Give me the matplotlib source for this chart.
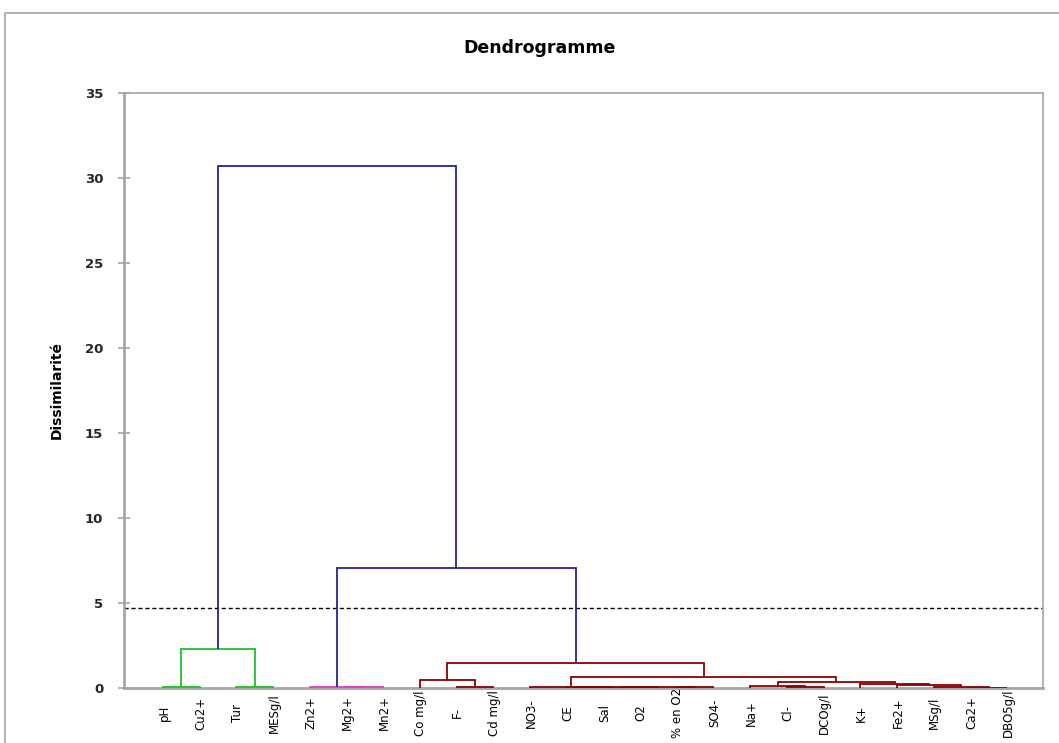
import matplotlib
matplotlib.use("Agg")
import matplotlib.pyplot as plt
from matplotlib.patches import Rectangle
from matplotlib.transforms import blended_transform_factory

plt.rcParams['font.family'] = ['DejaVu Sans']

# ---------------- data ----------------
leaves = ['pH', 'Cu2+', 'Tur', 'MESg/l', 'Zn2+', 'Mg2+', 'Mn2+', 'Co mg/l', 'F-', 'Cd mg/l',
          'NO3-', 'CE', 'Sal', 'O2', '% en O2', 'SO4-', 'Na+', 'Cl-', 'DCOg/l', 'K+',
          'Fe2+', 'MSg/l', 'Ca2+', 'DBO5g/l']

# merges: node ids 0..23 are leaves, new clusters numbered from 24 upward
merge_a = [0, 2, 24, 5, 4, 8, 7, 12, 14, 31, 11, 10, 17, 16, 22, 21, 20, 19, 37, 35, 30, 28, 26]
merge_b = [1, 3, 25, 6, 27, 9, 29, 13, 15, 32, 33, 34, 18, 36, 23, 38, 39, 40, 41, 42, 43, 44, 45]
merge_h = [0.05, 0.05, 2.3, 0.04, 0.07, 0.05, 0.5, 0.02, 0.03, 0.04, 0.05, 0.08, 0.05, 0.1,
           0.02, 0.08, 0.15, 0.25, 0.33, 0.62, 1.47, 7.05, 30.7]

truncation = 4.7
y_ticks = [0, 5, 10, 15, 20, 25, 30, 35]

cluster_colors = ['#22c022', '#e040c0', '#8b0000']
above_color = '#23239a'

# ---------------- figure ----------------
W, H = 1059, 743
fig = plt.figure(figsize=(W / 100, H / 100), dpi=100)
fig.patch.set_facecolor('white')
fig.patches.append(Rectangle((5 / W, -0.2), 2.0, (H - 13) / H + 0.2, transform=fig.transFigure,
                             fill=False, edgecolor='#a6a6a6', lw=1.2))

ax = fig.add_axes([124 / W, 1 - 688 / H, (1043 - 124) / W, (688 - 93) / H])

n = len(leaves)
pos = {i: float(i) for i in range(n)}
hgt = {i: 0.0 for i in range(n)}
members = {i: [i] for i in range(n)}

node = n
for a, b, h in zip(merge_a, merge_b, merge_h):
    members[node] = members[a] + members[b]
    node += 1

# colour clusters found below the truncation level, in leaf order
node = n
top_nodes = []
for a, b, h in zip(merge_a, merge_b, merge_h):
    if h < truncation:
        top_nodes = [t for t in top_nodes if t not in (a, b)]
        top_nodes.append(node)
    node += 1
top_nodes.sort(key=lambda t: min(members[t]))
leaf_cluster = {}
for k, t in enumerate(top_nodes):
    for m in members[t]:
        leaf_cluster[m] = k

node = n
for a, b, h in zip(merge_a, merge_b, merge_h):
    xa, xb = pos[a], pos[b]
    ya, yb = hgt[a], hgt[b]
    col = cluster_colors[leaf_cluster[members[a][0]]] if h < truncation else above_color
    ax.plot([xa, xa, xb, xb], [ya, h, h, yb], color=col, lw=1.3, solid_joinstyle='miter',
            solid_capstyle='butt', zorder=3)
    pos[node] = (xa + xb) / 2
    hgt[node] = h
    node += 1

ax.axhline(truncation, color='black', lw=1.0, ls=(0, (3, 2)), zorder=2)

ax.set_xlim(-1.06, n - 0.02)
ax.set_ylim(0, 35)
ax.set_yticks(y_ticks)
ax.set_yticklabels([str(t) for t in y_ticks], fontsize=9.5, fontweight='bold', color='#262626')
ax.tick_params(axis='y', direction='inout', length=8, width=1.2, color='#a6a6a6', pad=11)
ax.set_xticks([])
for s in ax.spines.values():
    s.set_color('#a6a6a6')
    s.set_linewidth(1.2)
ax.spines['left'].set_linewidth(2)
ax.spines['bottom'].set_linewidth(2)

trans = blended_transform_factory(ax.transData, ax.transAxes)
for i, lab in enumerate(leaves):
    ax.text(i + 0.03, -25 / 595, lab, rotation=90, ha='center', va='center', fontsize=8.5,
            color='black', transform=trans, clip_on=False)

fig.text(57 / W, 1 - 390 / H, 'Dissimilarité', rotation=90, ha='center', va='center',
         fontsize=10, fontweight='bold')
fig.text(540 / W, 1 - 48 / H, 'Dendrogramme', ha='center', va='center', fontsize=12.5,
         fontweight='bold')

fig.savefig('out.png', dpi=100)
